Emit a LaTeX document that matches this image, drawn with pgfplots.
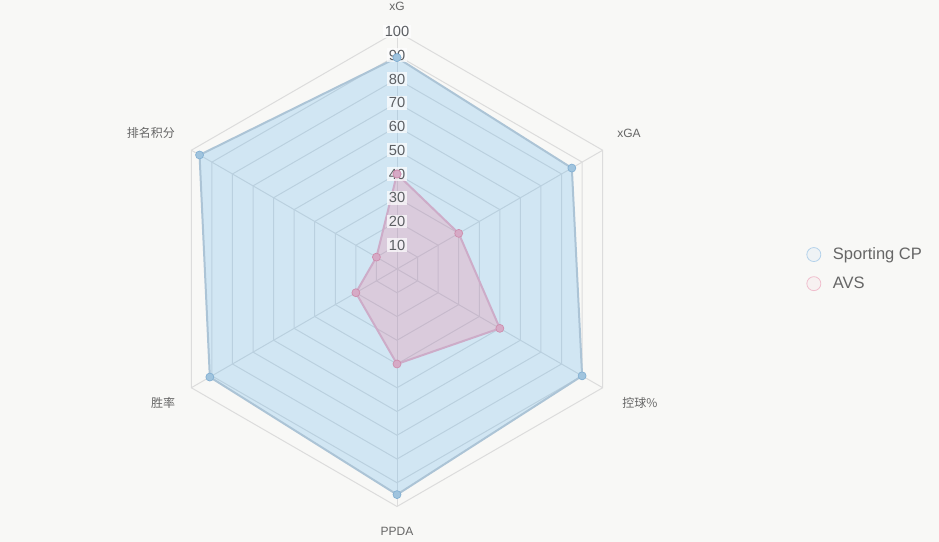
\documentclass[border=0pt]{standalone}
\usepackage{pgfplots}
\pgfplotsset{compat=1.18}
\usepackage{pgfplotstable}
\usepackage{fontspec}
\setmainfont{Liberation Sans}
\newfontfamily\cjk{Noto Sans CJK SC}

\definecolor{bg}{HTML}{F8F8F6}
\definecolor{gridc}{HTML}{DCDCDC}
\definecolor{txt}{HTML}{666666}
\definecolor{ticktxt}{HTML}{5C5F63}
\definecolor{spblue}{RGB}{54,162,235}
\definecolor{avpink}{RGB}{255,99,132}
\definecolor{spline}{RGB}{172,196,214}
\definecolor{avline}{RGB}{205,172,200}
\definecolor{spmark}{RGB}{160,196,222}
\definecolor{spmarkd}{RGB}{130,175,210}
\definecolor{avmark}{RGB}{214,170,198}
\definecolor{avmarkd}{RGB}{205,140,172}
\definecolor{splegf}{RGB}{207,227,242}
\definecolor{splegd}{RGB}{180,210,235}
\definecolor{avlegf}{RGB}{247,214,222}
\definecolor{avlegd}{RGB}{240,190,205}

% angle (deg) and score (0-100) for each axis of the radar
% xG 90, xGA 30, possession -30, PPDA -90, win rate -150, league points 150
\pgfplotstableread{
a r
90 89
30 85
-30 90
-90 95
-150 91
150 96
90 89
}\sporting
\pgfplotstableread{
a r
90 40
30 30
-30 50
-90 40
-150 20
150 10
90 40
}\avs
% unit hexagon, scaled per ring
\pgfplotstableread{
a r
90 1
30 1
-30 1
-90 1
-150 1
150 1
90 1
}\hexagon

\begin{document}
\begin{tikzpicture}
\begin{axis}[
  scale only axis, width=704.25pt, height=406.5pt,
  xmin=-167.16, xmax=228.21, ymin=-114.95, ymax=113.26,
  hide axis, clip=false,
  legend style={at={(axis cs:168.5,0)}, anchor=west, draw=none, fill=none,
    font=\fontsize{12.4}{15}\selectfont, text=txt, row sep=7.5pt,
    legend cell align=left, overlay},
]
\path[fill=bg] (rel axis cs:0,0) rectangle (rel axis cs:1,1);

% hexagonal rings
\pgfplotsinvokeforeach{10,20,...,100}{
  \addplot[gridc, line width=0.75pt, forget plot]
    table[x expr={#1*\thisrow{r}*cos(\thisrow{a})}, y expr={#1*\thisrow{r}*sin(\thisrow{a})}] \hexagon;
}
% spokes
\addplot[gridc, line width=0.75pt, forget plot] coordinates {(0,100) (0,-100)};
\addplot[gridc, line width=0.75pt, forget plot] coordinates {(86.603,50) (-86.603,-50)};
\addplot[gridc, line width=0.75pt, forget plot] coordinates {(86.603,-50) (-86.603,50)};

% series
\addplot[draw=spline, line width=1.5pt, line join=round, fill=spblue, fill opacity=0.2,
  mark=*, mark size=3pt,
  mark options={fill=spmark, draw=spmarkd, fill opacity=1, line width=0.5pt},
  legend image code/.code={\path (0,0) (0.3cm+11.5pt,0);
    \draw[fill=splegf, draw=splegd, line width=0.6pt]
    (0.3cm,0) circle (5.25pt);}]
  table[x expr={\thisrow{r}*cos(\thisrow{a})}, y expr={\thisrow{r}*sin(\thisrow{a})}] \sporting;
\addlegendentry{Sporting CP}
\addplot[draw=avline, line width=1.5pt, line join=round, fill=avpink, fill opacity=0.2,
  mark=*, mark size=3pt,
  mark options={fill=avmark, draw=avmarkd, fill opacity=1, line width=0.5pt},
  legend image code/.code={\path (0,0) (0.3cm+11.5pt,0);
    \draw[fill=avlegf, draw=avlegd, line width=0.6pt]
    (0.3cm,0) circle (5.25pt);}]
  table[x expr={\thisrow{r}*cos(\thisrow{a})}, y expr={\thisrow{r}*sin(\thisrow{a})}] \avs;
\addlegendentry{AVS}

% radial tick labels, on top of the areas
\pgfplotsinvokeforeach{10,20,...,100}{
  \node[overlay, fill=white, fill opacity=0.7, text opacity=1, text=ticktxt, inner sep=1.3pt,
    font=\fontsize{11}{13}\selectfont] at (axis cs:0,#1) {#1};
}

% axis names
\begin{scope}[every node/.style={overlay, text=txt, font=\fontsize{9}{11}\selectfont}]
\node at (axis cs:0,110.7) {xG};
\node at (axis cs:97.7,57.3) {xGA};
\node at (axis cs:102.3,-56.4) {\cjk 控球\%};
\node at (axis cs:0,-110.3) {PPDA};
\node at (axis cs:-98.5,-56.4) {\cjk 胜率};
\node at (axis cs:-103.6,57.3) {\cjk 排名积分};
\end{scope}
\end{axis}
\end{tikzpicture}
\end{document}
